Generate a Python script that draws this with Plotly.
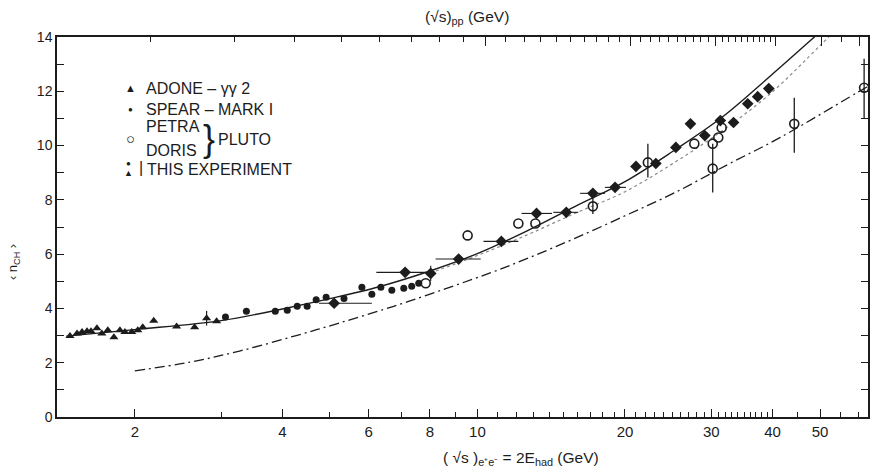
import plotly.graph_objects as go

# ---------------- data ----------------
adone_x = [1.475, 1.525, 1.561, 1.598, 1.628, 1.674, 1.713, 1.762, 1.813, 1.865,
           1.909, 1.972, 2.028, 2.076, 2.186, 2.434, 2.649, 2.802, 2.937]
adone_y = [2.98, 3.08, 3.13, 3.16, 3.16, 3.27, 3.08, 3.20, 2.94, 3.20,
           3.13, 3.13, 3.20, 3.31, 3.55, 3.33, 3.31, 3.64, 3.53]
adone_err = [0, 0, 0, 0, 0, 0, 0, 0, 0, 0, 0, 0, 0, 0, 0, 0, 0, 0.27, 0]

spear_x = [3.062, 3.378, 3.869, 4.093, 4.289, 4.494, 4.688, 4.913, 5.343, 5.812,
           6.090, 6.353, 6.689, 7.075, 7.345, 7.590]
spear_y = [3.68, 3.90, 3.90, 3.93, 4.08, 4.08, 4.32, 4.41, 4.37, 4.78,
           4.52, 4.78, 4.67, 4.74, 4.82, 4.93]

this_x = [5.101, 7.12, 8.03, 9.155, 11.19, 13.2, 15.18, 17.2, 19.09, 21.06,
          23.12, 25.4, 27.2, 29.1, 31.3, 33.3, 35.6, 37.3, 39.3]
this_y = [4.19, 5.33, 5.29, 5.82, 6.47, 7.50, 7.54, 8.24, 8.46, 9.23,
          9.34, 9.93, 10.80, 10.37, 10.92, 10.85, 11.54, 11.80, 12.10]
this_xerr_minus = [0.35, 0.90, 0, 0.94, 0.90, 0.90, 0.90, 1.00, 0.89, 0,
                   0, 0, 0, 0, 0, 0, 0, 0, 0]
this_xerr_plus = [0.99, 0.72, 0, 1.00, 0.93, 1.00, 0.88, 1.00, 1.00, 0,
                  0, 0, 0, 0, 0, 0, 0, 0, 0]
this_yerr = [0, 0, 0.28, 0, 0, 0, 0, 0, 0, 0, 0, 0, 0, 0, 0, 0, 0, 0, 0]

pluto_x = [7.843, 9.55, 12.12, 13.13, 17.2, 22.27, 27.7, 30.2, 31.0, 31.5, 30.2, 44.3, 61.5]
pluto_y = [4.93, 6.69, 7.13, 7.13, 7.76, 9.38, 10.07, 10.07, 10.30, 10.66, 9.15, 10.80, 12.13]
pluto_err_plus = [0, 0, 0, 0, 0.28, 0.69, 0, 0, 0, 0, 0.92, 0.96, 1.07]
pluto_err_minus = [0, 0, 0, 0, 0.28, 0.56, 0, 0, 0, 0, 0.88, 1.06, 1.13]

upper_x = [1.45, 2.0, 3.0, 4.0, 5.0, 6.3, 8.0, 10.0, 12.6, 15.8, 20.0, 25.1, 31.6, 39.8, 50.1, 56.2]
upper_y = [2.98, 3.22, 3.55, 3.98, 4.36, 4.80, 5.38, 6.02, 6.85, 7.75, 8.67, 9.80, 11.05, 12.60, 14.20, 15.00]

dotted_x = [8.0, 10.0, 12.6, 15.8, 20.0, 25.1, 31.6, 39.8, 50.1, 56.2]
dotted_y = [5.30, 5.95, 6.70, 7.50, 8.30, 9.35, 10.55, 11.95, 13.70, 14.60]

lower_x = [2.0, 2.59, 3.27, 4.23, 5.22, 6.75, 8.65, 10.7, 12.8, 15.8, 20.1, 25.3, 32.4, 41.5, 61.5, 63.0]
lower_y = [1.70, 2.02, 2.43, 2.98, 3.46, 4.08, 4.74, 5.33, 5.88, 6.58, 7.43, 8.27, 9.30, 10.3, 12.1, 12.2]

x_major_ticks = [2, 4, 6, 8, 10, 20, 30, 40, 50]
x_minor_ticks = [3, 5, 7, 9, 11, 12, 13, 14, 15, 16, 17, 18, 19, 21, 22, 23, 24, 25, 26, 27, 28, 29,
                 31, 32, 33, 34, 35, 36, 37, 38, 39, 45, 55, 60]
pp_major_ticks = [10, 20, 30, 40, 50, 60]
pp_minor_ticks = [2, 3, 4, 5, 6, 7, 8, 9, 11, 12, 13, 14, 15, 16, 17, 18, 19,
                  21, 22, 23, 24, 25, 26, 27, 28, 29, 31, 32, 33, 34, 35, 36, 37, 38, 39, 55]
y_ticks = [0, 2, 4, 6, 8, 10, 12, 14]

# ---------------- figure ----------------
INK = '#1c1c1c'
FONT = 'Liberation Sans, Arial, sans-serif'
W, H = 873, 475
L, R, T, B = 57, 3, 37, 58

fig = go.Figure()

fig.add_trace(go.Scatter(x=lower_x, y=lower_y, mode='lines', line_shape='spline',
                         line=dict(color=INK, width=1.3, dash='10px,4px,2px,4px'),
                         hoverinfo='skip', showlegend=False))
fig.add_trace(go.Scatter(x=dotted_x, y=dotted_y, mode='lines', line_shape='spline',
                         line=dict(color='#8a8a8a', width=1.2, dash='dot'),
                         hoverinfo='skip', showlegend=False))
fig.add_trace(go.Scatter(x=upper_x, y=upper_y, mode='lines', line_shape='spline',
                         line=dict(color=INK, width=1.4),
                         hoverinfo='skip', showlegend=False))

fig.add_trace(go.Scatter(x=adone_x, y=adone_y, mode='markers', name='ADONE',
                         marker=dict(symbol='triangle-up', size=8, color=INK),
                         error_y=dict(type='data', array=adone_err, color=INK, thickness=1.2, width=0),
                         showlegend=False))
fig.add_trace(go.Scatter(x=spear_x, y=spear_y, mode='markers', name='SPEAR',
                         marker=dict(symbol='circle', size=7, color=INK),
                         showlegend=False))
fig.add_trace(go.Scatter(x=this_x, y=this_y, mode='markers', name='THIS EXPERIMENT',
                         marker=dict(symbol='diamond', size=9, color=INK),
                         error_x=dict(type='data', array=this_xerr_plus, arrayminus=this_xerr_minus,
                                      color=INK, thickness=1.1, width=0),
                         error_y=dict(type='data', array=this_yerr, color=INK, thickness=1.1, width=0),
                         showlegend=False))
fig.add_trace(go.Scatter(x=pluto_x, y=pluto_y, mode='markers', name='PLUTO',
                         marker=dict(symbol='circle-open', size=9, color=INK, line=dict(width=1.6)),
                         error_y=dict(type='data', array=pluto_err_plus, arrayminus=pluto_err_minus,
                                      color=INK, thickness=1.3, width=0),
                         showlegend=False))
# invisible trace so the top (pp) axis is drawn
fig.add_trace(go.Scatter(x=pp_major_ticks, y=[None] * len(pp_major_ticks), xaxis='x2',
                         mode='markers', hoverinfo='skip', showlegend=False))

axis_font = dict(family=FONT, size=15, color=INK)

fig.update_layout(
    width=W, height=H,
    margin=dict(l=L, r=R, t=T, b=B),
    paper_bgcolor='white', plot_bgcolor='white',
    font=dict(family=FONT, color=INK),
    xaxis=dict(type='log', range=[0.1423, 1.7968], showgrid=False, zeroline=False,
               showline=True, linecolor=INK, linewidth=1.5, mirror=True,
               ticks='inside', ticklen=8, tickwidth=1.3, tickcolor=INK,
               tickmode='array', tickvals=x_major_ticks,
               ticktext=[str(v) for v in x_major_ticks],
               tickfont=axis_font,
               minor=dict(tickmode='array', tickvals=x_minor_ticks, ticks='inside',
                          ticklen=5, tickwidth=1.1, tickcolor=INK, showgrid=False)),
    xaxis2=dict(type='log', range=[0.1073, 1.795], overlaying='x', side='top', anchor='y',
                showgrid=False, zeroline=False, showline=False,
                ticks='inside', ticklen=9, tickwidth=1.3, tickcolor=INK,
                tickmode='array', tickvals=pp_major_ticks, showticklabels=False,
                minor=dict(tickmode='array', tickvals=pp_minor_ticks, ticks='inside',
                           ticklen=5, tickwidth=1.1, tickcolor=INK, showgrid=False)),
    yaxis=dict(range=[0, 14], showgrid=False, zeroline=False,
               showline=True, linecolor=INK, linewidth=1.5, mirror='ticks',
               ticks='inside', ticklen=7, tickwidth=1.3, tickcolor=INK,
               tickmode='array', tickvals=y_ticks, tickfont=dict(family=FONT, size=14, color=INK),
               minor=dict(dtick=1, ticks='inside', ticklen=7, tickwidth=1.2, tickcolor=INK,
                          showgrid=False)),
)


def pp(px, py):
    """pixel position -> paper coords"""
    return (px - L) / (W - L - R), (H - B - py) / (H - T - B)


def note(text, px, py, size=16, xanchor='left', angle=0):
    x, y = pp(px, py)
    fig.add_annotation(text=text, x=x, y=y, xref='paper', yref='paper',
                       xanchor=xanchor, yanchor='middle', showarrow=False,
                       textangle=angle, font=dict(family=FONT, size=size, color=INK))


# legend block
note('▲', 131, 88, size=11, xanchor='center')
note('ADONE – γγ 2', 144, 88)
note('●', 131, 109, size=8, xanchor='center')
note('SPEAR – MARK I', 144, 109)
note('○', 131, 138, size=15, xanchor='center')
note('PETRA', 144, 127)
note('DORIS', 144, 150)
note('}', 201, 138, size=36)
note('PLUTO', 216, 139)
note('●', 129, 163, size=8, xanchor='center')
note('▲', 129, 173, size=9, xanchor='center')
note('|', 137, 168, size=16)
note('THIS EXPERIMENT', 145, 169)

# axis titles
note('(√s)<sub>pp</sub> (GeV)', 468, 18, size=15.5, xanchor='center')
note('( √s )<sub>e⁺e⁻</sub> = 2E<sub>had</sub> (GeV)', 522, 459, size=15.5, xanchor='center')
note('‹ n<sub>CH</sub> ›', 13, 262, size=13, xanchor='center', angle=-90)

# remove the page's default body margin so the figure sits at the window's corner
fig.write_html('out.html', config={'displayModeBar': False},
               post_script="document.body.style.margin='0px';document.body.style.overflow='hidden';")
